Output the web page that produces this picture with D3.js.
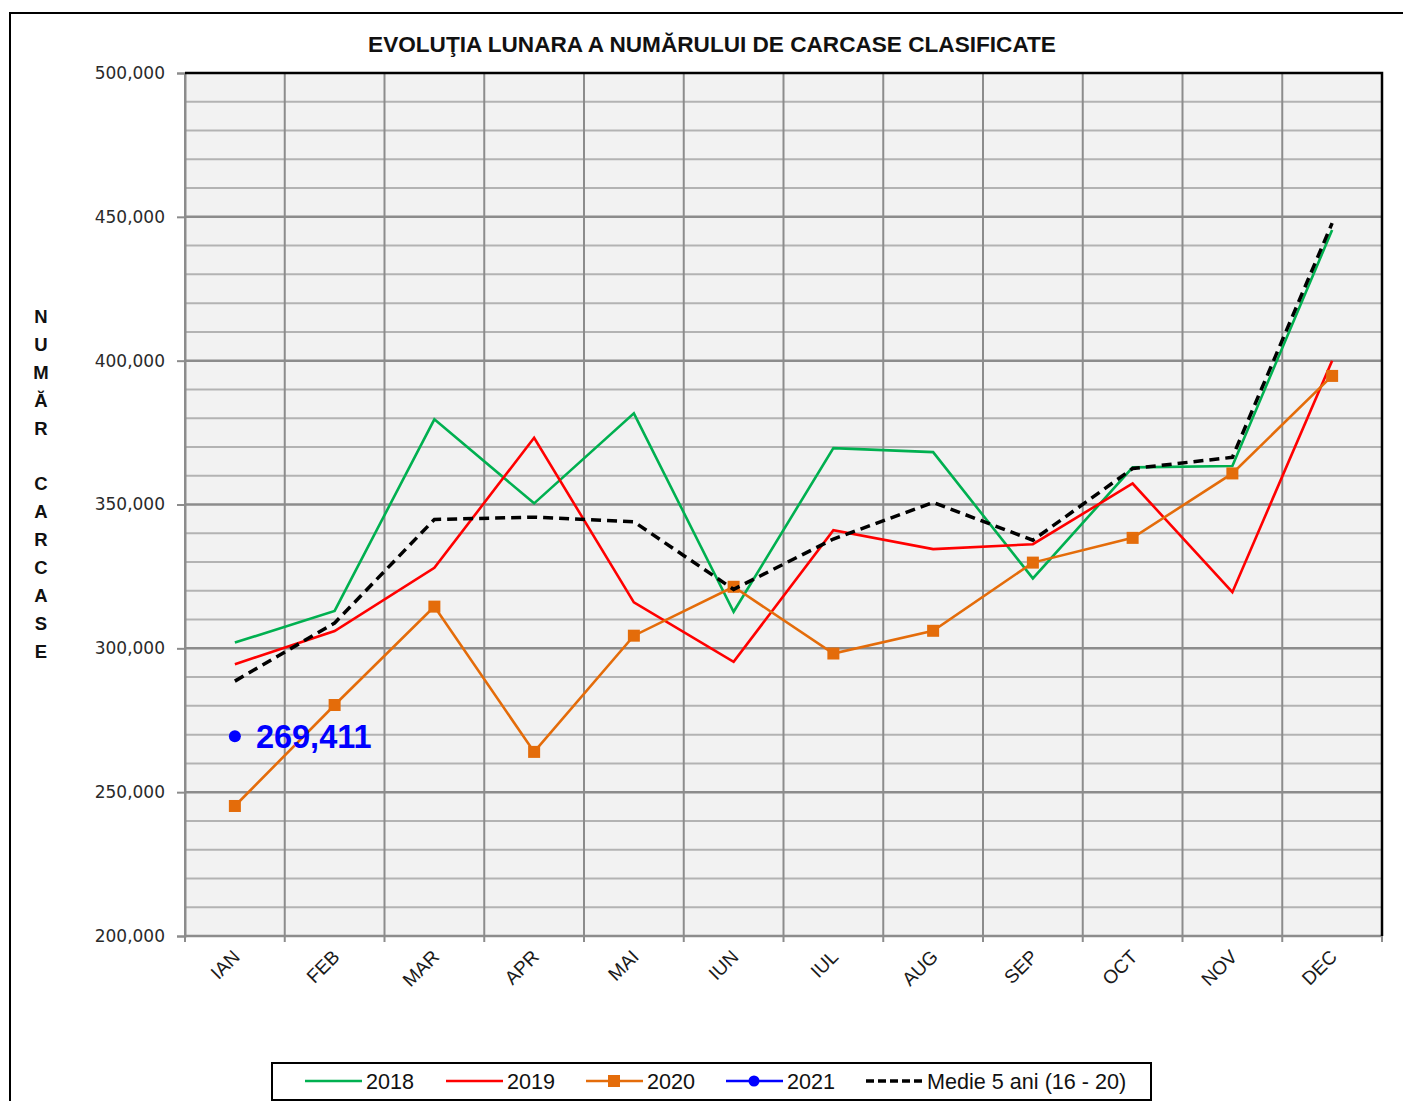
<html>
<head>
    <meta charset="utf-8">
    <script src="https://d3js.org/d3.v7.min.js"></script>
    <style>
        body { margin: 0; background: #fff; }
    </style>
</head>
<body>
    <div id="chart"></div>
<script>

    // months on the x axis
    const months = ["IAN", "FEB", "MAR", "APR", "MAI", "IUN", "IUL", "AUG", "SEP", "OCT", "NOV", "DEC"];

    // values
    const s2018 = [302000, 313000, 379600, 350400, 381700, 312700, 369600, 368200, 324300, 362900, 363400, 445400];
    const s2019 = [294500, 306000, 328000, 373200, 316000, 295300, 341100, 334500, 336200, 357300, 319500, 400000];
    const s2020 = [245200, 280300, 314500, 264000, 304400, 321400, 298200, 306100, 329800, 338400, 360800, 394700];
    const s2021 = [269411];
    const medie = [288600, 308800, 344800, 345600, 344000, 320500, 338000, 350700, 337600, 362500, 366400, 447800];

    const yTicks = [200000, 250000, 300000, 350000, 400000, 450000, 500000];
    const legendNames = ["2018", "2019", "2020", "2021", "Medie 5 ani (16 - 20)"];

    const W = 1403, H = 1101;
    const pLeft = 185, pRight = 1382, pTop = 73, pBottom = 936;

    const svg = d3.select("#chart").append("svg")
        .attr("width", W).attr("height", H);

    // outer frame
    svg.append("rect")
        .attr("x", 10).attr("y", 13)
        .attr("width", W + 50).attr("height", H + 50)
        .attr("fill", "#fff").attr("stroke", "#000").attr("stroke-width", 2);

    const x = d3.scaleBand().domain(months).range([pLeft, pRight]).padding(0);
    const y = d3.scaleLinear().domain([200000, 500000]).range([pBottom, pTop]);
    const cx = m => x(m) + x.bandwidth() / 2;

    // plot background
    svg.append("rect")
        .attr("x", pLeft).attr("y", pTop)
        .attr("width", pRight - pLeft).attr("height", pBottom - pTop)
        .attr("fill", "#f2f2f2");

    // minor horizontal grid, every 10,000
    const minor = d3.range(210000, 500000, 10000).filter(v => v % 50000 !== 0);
    svg.append("g").selectAll("line").data(minor).join("line")
        .attr("x1", pLeft).attr("x2", pRight)
        .attr("y1", d => y(d)).attr("y2", d => y(d))
        .attr("stroke", "#b3b3b3").attr("stroke-width", 2);

    // vertical grid at band edges
    const edges = months.map(m => x(m)).concat([pRight]);
    svg.append("g").selectAll("line").data(edges).join("line")
        .attr("x1", d => d).attr("x2", d => d)
        .attr("y1", pTop).attr("y2", pBottom + 6)
        .attr("stroke", "#8c8c8c").attr("stroke-width", 2);

    // major horizontal grid + y axis
    const yAxis = svg.append("g")
        .attr("transform", `translate(${pLeft},0)`)
        .call(d3.axisLeft(y).tickValues(yTicks).tickSize(8).tickPadding(12)
            .tickFormat(d3.format(",")));
    yAxis.select(".domain").attr("stroke", "#8c8c8c").attr("stroke-width", 2);
    yAxis.selectAll(".tick line").attr("stroke", "#8c8c8c").attr("stroke-width", 2);
    yAxis.selectAll(".tick text")
        .attr("fill", "#2a2a2a")
        .style("font-family", "'DejaVu Sans', Verdana, sans-serif")
        .style("font-size", "17px");
    svg.append("g").selectAll("line").data(yTicks.slice(1, -1)).join("line")
        .attr("x1", pLeft).attr("x2", pRight)
        .attr("y1", d => y(d)).attr("y2", d => y(d))
        .attr("stroke", "#8c8c8c").attr("stroke-width", 2.5);

    // bottom axis line
    svg.append("line")
        .attr("x1", pLeft).attr("x2", pRight)
        .attr("y1", pBottom).attr("y2", pBottom)
        .attr("stroke", "#8c8c8c").attr("stroke-width", 2.5);

    // top and right border of the plot
    svg.append("path")
        .attr("d", `M${pLeft},${pTop}H${pRight}V${pBottom}`)
        .attr("fill", "none").attr("stroke", "#000").attr("stroke-width", 2.5);

    // x labels rotated
    svg.append("g").selectAll("text").data(months).join("text")
        .attr("transform", d => `translate(${cx(d) + 6},${pBottom + 22}) rotate(-45)`)
        .attr("text-anchor", "end")
        .attr("fill", "#1a1a1a")
        .style("font-family", "'Liberation Sans', Arial, sans-serif")
        .style("font-size", "19px")
        .text(d => d);

    // title
    svg.append("text")
        .attr("x", 712).attr("y", 52)
        .attr("text-anchor", "middle")
        .style("font-family", "'Liberation Sans', Arial, sans-serif")
        .style("font-weight", "bold")
        .style("font-size", "22.6px")
        .attr("fill", "#111")
        .text("EVOLUŢIA LUNARA A NUMĂRULUI DE CARCASE CLASIFICATE");

    // vertical y axis title, one letter per row
    const letters = Array.from("NUMĂR CARCASE");
    svg.append("g").selectAll("text").data(letters).join("text")
        .attr("x", 41)
        .attr("y", (d, i) => 323 + i * 27.9)
        .attr("text-anchor", "middle")
        .style("font-family", "'Liberation Sans', Arial, sans-serif")
        .style("font-weight", "bold")
        .style("font-size", "18.5px")
        .attr("fill", "#111")
        .text(d => d);

    // series
    const line = d3.line().x((d, i) => cx(months[i])).y(d => y(d));
    const series = [
        {data: s2018, color: "#00b050", width: 2.6},
        {data: s2019, color: "#ff0000", width: 2.6},
        {data: s2020, color: "#e46c0a", width: 2.6}
    ];
    series.forEach(s => {
        svg.append("path").datum(s.data)
            .attr("d", line)
            .attr("fill", "none")
            .attr("stroke", s.color)
            .attr("stroke-width", s.width)
            .attr("stroke-linejoin", "miter");
    });

    // 2020 square markers
    svg.append("g").selectAll("rect").data(s2020).join("rect")
        .attr("x", (d, i) => cx(months[i]) - 6)
        .attr("y", d => y(d) - 6)
        .attr("width", 12).attr("height", 12)
        .attr("fill", "#e46c0a");

    // 5-year average dashed
    svg.append("path").datum(medie)
        .attr("d", line)
        .attr("fill", "none")
        .attr("stroke", "#000")
        .attr("stroke-width", 3.5)
        .attr("stroke-dasharray", "10,6");

    // 2021 point + label
    svg.append("g").selectAll("circle").data(s2021).join("circle")
        .attr("cx", (d, i) => cx(months[i]))
        .attr("cy", d => y(d))
        .attr("r", 6)
        .attr("fill", "#0000ff");
    svg.append("g").selectAll("text").data(s2021).join("text")
        .attr("x", (d, i) => cx(months[i]) + 21)
        .attr("y", d => y(d) + 12)
        .attr("fill", "#0000ff")
        .style("font-family", "'Liberation Sans', Arial, sans-serif")
        .style("font-weight", "bold")
        .style("font-size", "32.5px")
        .text(d => d3.format(",")(d));

    // legend
    const lg = svg.append("g");
    lg.append("rect")
        .attr("x", 272).attr("y", 1063)
        .attr("width", 879).attr("height", 37)
        .attr("fill", "#fff").attr("stroke", "#000").attr("stroke-width", 2);
    const legendX = [305, 446, 586, 726, 866];
    const legendColor = ["#00b050", "#ff0000", "#e46c0a", "#0000ff", "#000"];
    legendNames.forEach((name, i) => {
        const lx = legendX[i], ly = 1081;
        lg.append("line")
            .attr("x1", lx).attr("x2", lx + 57)
            .attr("y1", ly).attr("y2", ly)
            .attr("stroke", legendColor[i])
            .attr("stroke-width", i === 4 ? 3.5 : 2.6)
            .attr("stroke-dasharray", i === 4 ? "8,4" : null);
        if (i === 2) {
            lg.append("rect").attr("x", lx + 22).attr("y", ly - 6)
                .attr("width", 12).attr("height", 12).attr("fill", legendColor[i]);
        }
        if (i === 3) {
            lg.append("circle").attr("cx", lx + 28).attr("cy", ly).attr("r", 5.5)
                .attr("fill", legendColor[i]);
        }
        lg.append("text")
            .attr("x", lx + 61).attr("y", ly + 8)
            .attr("fill", "#111")
            .style("font-family", "'Liberation Sans', Arial, sans-serif")
            .style("font-size", "21.6px")
            .text(name);
    });

</script>
</body>
</html>
